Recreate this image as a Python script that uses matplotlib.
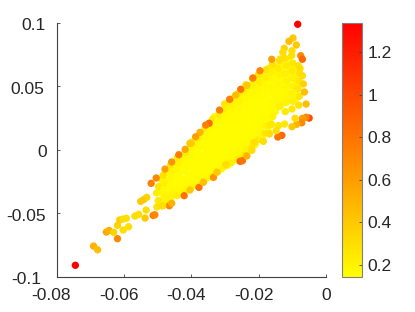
import numpy as np
import matplotlib
matplotlib.use("Agg")
import matplotlib.pyplot as plt
from matplotlib.transforms import ScaledTranslation

plt.rcParams["font.family"] = ["Liberation Sans", "DejaVu Sans"]

# points on the rim of the cloud, these are the ones that can be read one by one
rim_x = [-0.0084, -0.0744, -0.0690, -0.0678, -0.0619, -0.0652, -0.0644, -0.0630, -0.0619, -0.0602,
         -0.0586, -0.0612, -0.0603, -0.0593, -0.0567, -0.0556, -0.0537, -0.0513, -0.0508, -0.0534,
         -0.0550, -0.0540, -0.0532, -0.0519, -0.0504, -0.0478, -0.0458, -0.0437, -0.0418, -0.0404,
         -0.0421, -0.0465, -0.0458, -0.0485, -0.0404, -0.0377, -0.0364, -0.0334, -0.0324, -0.0297,
         -0.0255, -0.0248, -0.0235, -0.0220, -0.0098, -0.0110, -0.0088, -0.0124, -0.0128, -0.0101,
         -0.0075, -0.0070, -0.0161, -0.0136, -0.0196, -0.0217, -0.0253, -0.0235, -0.0268, -0.0286,
         -0.0316, -0.0347, -0.0357, -0.0374, -0.0387, -0.0400, -0.0050, -0.0059, -0.0070, -0.0072,
         -0.0087, -0.0101, -0.0092, -0.0059, -0.0064, -0.0067, -0.0070, -0.0077, -0.0131, -0.0143,
         -0.0186, -0.0168, -0.0148, -0.0123, -0.0166, -0.0213]
rim_y = [0.0986, -0.0908, -0.0757, -0.0786, -0.0699, -0.0647, -0.0634, -0.0649, -0.0594, -0.0631,
         -0.0605, -0.0552, -0.0545, -0.0539, -0.0521, -0.0508, -0.0537, -0.0516, -0.0511, -0.0474,
         -0.0406, -0.0390, -0.0374, -0.0264, -0.0222, -0.0152, -0.0096, -0.0039, 0.0003, 0.0050,
         -0.0361, -0.0440, -0.0421, -0.0442, -0.0317, -0.0296, -0.0256, -0.0217, -0.0177, -0.0115,
         -0.0091, -0.0086, -0.0049, -0.0004, 0.0878, 0.0852, 0.0823, 0.0797, 0.0766, 0.0778,
         0.0739, 0.0711, 0.0711, 0.0713, 0.0621, 0.0564, 0.0475, 0.0506, 0.0430, 0.0396,
         0.0312, 0.0208, 0.0194, 0.0137, 0.0102, 0.0050, 0.0249, 0.0255, 0.0247, 0.0212,
         0.0200, 0.0181, 0.0247, 0.0359, 0.0454, 0.0517, 0.0582, 0.0640, 0.0113, 0.0100,
         0.0066, 0.0124, 0.0150, 0.0202, 0.0194, 0.0055]
rim_c = [1.34, 1.34, 0.50, 0.45, 0.70, 0.55, 0.50, 0.35, 0.35, 0.30,
         0.30, 0.40, 0.30, 0.30, 0.30, 0.30, 0.40, 0.75, 0.70, 0.30,
         0.40, 0.40, 0.35, 0.75, 0.70, 0.60, 0.65, 0.75, 0.55, 0.40,
         0.80, 0.70, 0.50, 0.30, 0.40, 0.80, 0.45, 0.65, 0.40, 0.30,
         0.85, 0.80, 0.50, 0.30, 0.40, 0.45, 0.40, 0.35, 0.30, 0.30,
         0.70, 0.85, 0.60, 0.30, 0.70, 0.75, 0.80, 0.40, 0.45, 0.75,
         0.75, 0.85, 0.75, 0.50, 0.60, 0.40, 1.00, 0.70, 0.60, 0.70,
         0.50, 0.40, 0.30, 0.45, 0.45, 0.35, 0.30, 0.30, 0.85, 0.80,
         0.30, 0.30, 0.30, 0.25, 0.25, 0.30]

# the pale yellow mass in the middle, estimated
core_x = [-0.0502, -0.0498, -0.0503, -0.0497,
          -0.0482, -0.0478, -0.0481, -0.0479, -0.0483,
          -0.0461, -0.0458, -0.0462, -0.0459, -0.0457, -0.0461,
          -0.0442, -0.0438, -0.0441, -0.0439, -0.0443, -0.0437, -0.0441,
          -0.0421, -0.0418, -0.0422, -0.0419, -0.0417, -0.0421, -0.0418,
          -0.0401, -0.0399, -0.0402, -0.0398, -0.0401, -0.0397, -0.0402, -0.0399,
          -0.0381, -0.0378, -0.0382, -0.0379, -0.0377, -0.0381, -0.0379, -0.0382,
          -0.0361, -0.0358, -0.0362, -0.0359, -0.0357, -0.0361, -0.0358, -0.0362, -0.0359,
          -0.0341, -0.0338, -0.0342, -0.0339, -0.0337, -0.0341, -0.0338, -0.0342, -0.0339, -0.0337,
          -0.0321, -0.0318, -0.0322, -0.0319, -0.0317, -0.0321, -0.0318, -0.0322, -0.0319, -0.0317,
          -0.0301, -0.0298, -0.0302, -0.0299, -0.0297, -0.0301, -0.0298, -0.0302, -0.0299, -0.0297, -0.0301,
          -0.0281, -0.0278, -0.0282, -0.0279, -0.0277, -0.0281, -0.0278, -0.0282, -0.0279, -0.0277, -0.0281,
          -0.0261, -0.0258, -0.0262, -0.0259, -0.0257, -0.0261, -0.0258, -0.0262, -0.0259, -0.0257, -0.0261,
          -0.0241, -0.0238, -0.0242, -0.0239, -0.0237, -0.0241, -0.0238, -0.0242, -0.0239, -0.0237, -0.0241, -0.0238,
          -0.0221, -0.0218, -0.0222, -0.0219, -0.0217, -0.0221, -0.0218, -0.0222, -0.0219, -0.0217, -0.0221, -0.0218,
          -0.0201, -0.0198, -0.0202, -0.0199, -0.0197, -0.0201, -0.0198, -0.0202, -0.0199, -0.0197, -0.0201,
          -0.0181, -0.0178, -0.0182, -0.0179, -0.0177, -0.0181, -0.0178, -0.0182, -0.0179, -0.0177,
          -0.0161, -0.0158, -0.0162, -0.0159, -0.0157, -0.0161, -0.0158, -0.0162, -0.0159,
          -0.0141, -0.0138, -0.0142, -0.0139, -0.0137, -0.0141, -0.0138, -0.0142, -0.0139,
          -0.0121, -0.0118, -0.0122, -0.0119, -0.0117, -0.0121, -0.0118, -0.0122,
          -0.0101, -0.0098, -0.0102, -0.0099, -0.0097, -0.0101, -0.0098, -0.0102,
          -0.0081, -0.0079, -0.0083, -0.0080, -0.0078, -0.0082]
core_y = [-0.0450, -0.0400, -0.0340, -0.0290,
          -0.0420, -0.0370, -0.0310, -0.0260, -0.0200,
          -0.0380, -0.0330, -0.0270, -0.0210, -0.0160, -0.0120,
          -0.0360, -0.0310, -0.0260, -0.0200, -0.0150, -0.0100, -0.0060,
          -0.0330, -0.0280, -0.0230, -0.0170, -0.0120, -0.0070, -0.0020,
          -0.0300, -0.0250, -0.0200, -0.0150, -0.0090, -0.0040, 0.0010, 0.0060,
          -0.0270, -0.0220, -0.0170, -0.0120, -0.0060, -0.0010, 0.0040, 0.0090,
          -0.0240, -0.0190, -0.0140, -0.0090, -0.0030, 0.0020, 0.0070, 0.0120, 0.0170,
          -0.0210, -0.0160, -0.0100, -0.0050, 0.0000, 0.0050, 0.0100, 0.0150, 0.0200, 0.0240,
          -0.0170, -0.0120, -0.0070, -0.0020, 0.0030, 0.0080, 0.0130, 0.0180, 0.0230, 0.0280,
          -0.0130, -0.0080, -0.0030, 0.0020, 0.0070, 0.0120, 0.0170, 0.0220, 0.0270, 0.0320, 0.0360,
          -0.0100, -0.0050, 0.0000, 0.0050, 0.0100, 0.0150, 0.0200, 0.0250, 0.0300, 0.0350, 0.0400,
          -0.0070, -0.0020, 0.0030, 0.0080, 0.0130, 0.0180, 0.0230, 0.0280, 0.0330, 0.0380, 0.0440,
          -0.0040, 0.0010, 0.0060, 0.0110, 0.0160, 0.0210, 0.0260, 0.0310, 0.0360, 0.0410, 0.0460, 0.0510,
          0.0010, 0.0060, 0.0110, 0.0160, 0.0210, 0.0260, 0.0310, 0.0360, 0.0410, 0.0460, 0.0510, 0.0560,
          0.0080, 0.0130, 0.0180, 0.0230, 0.0280, 0.0330, 0.0380, 0.0430, 0.0480, 0.0530, 0.0590,
          0.0130, 0.0190, 0.0250, 0.0300, 0.0360, 0.0410, 0.0470, 0.0520, 0.0570, 0.0630,
          0.0200, 0.0260, 0.0320, 0.0380, 0.0440, 0.0490, 0.0550, 0.0610, 0.0670,
          0.0190, 0.0340, 0.0390, 0.0430, 0.0480, 0.0530, 0.0590, 0.0640, 0.0700,
          0.0300, 0.0370, 0.0430, 0.0480, 0.0540, 0.0600, 0.0660, 0.0720,
          0.0320, 0.0380, 0.0440, 0.0500, 0.0560, 0.0620, 0.0680, 0.0740,
          0.0350, 0.0420, 0.0480, 0.0540, 0.0600, 0.0660]
core_c = [0.28, 0.25, 0.22, 0.26,
          0.22, 0.20, 0.18, 0.22, 0.28,
          0.20, 0.18, 0.17, 0.18, 0.20, 0.26,
          0.22, 0.17, 0.16, 0.17, 0.18, 0.20, 0.24,
          0.20, 0.17, 0.16, 0.16, 0.17, 0.18, 0.24,
          0.22, 0.17, 0.16, 0.16, 0.16, 0.17, 0.18, 0.24,
          0.20, 0.17, 0.16, 0.16, 0.16, 0.16, 0.17, 0.22,
          0.20, 0.17, 0.16, 0.16, 0.16, 0.16, 0.16, 0.18, 0.24,
          0.20, 0.17, 0.16, 0.16, 0.16, 0.16, 0.16, 0.17, 0.18, 0.24,
          0.22, 0.17, 0.16, 0.16, 0.16, 0.16, 0.16, 0.16, 0.18, 0.24,
          0.22, 0.17, 0.16, 0.16, 0.16, 0.16, 0.16, 0.16, 0.17, 0.20, 0.26,
          0.22, 0.17, 0.16, 0.16, 0.16, 0.16, 0.16, 0.16, 0.17, 0.20, 0.26,
          0.22, 0.18, 0.16, 0.16, 0.16, 0.16, 0.16, 0.16, 0.17, 0.20, 0.26,
          0.26, 0.20, 0.17, 0.16, 0.16, 0.16, 0.16, 0.16, 0.17, 0.18, 0.22, 0.28,
          0.26, 0.20, 0.17, 0.16, 0.16, 0.16, 0.16, 0.16, 0.17, 0.18, 0.22, 0.28,
          0.24, 0.18, 0.17, 0.16, 0.16, 0.16, 0.16, 0.17, 0.18, 0.22, 0.28,
          0.26, 0.20, 0.17, 0.16, 0.16, 0.16, 0.17, 0.18, 0.22, 0.28,
          0.24, 0.20, 0.17, 0.17, 0.17, 0.18, 0.18, 0.22, 0.28,
          0.26, 0.22, 0.18, 0.17, 0.17, 0.18, 0.20, 0.24, 0.28,
          0.24, 0.20, 0.18, 0.18, 0.20, 0.22, 0.24, 0.28,
          0.26, 0.22, 0.20, 0.20, 0.22, 0.24, 0.26, 0.28,
          0.28, 0.26, 0.26, 0.26, 0.28, 0.28]

# more of the same mass, sits between the points above so no white shows through
fill_x = [-0.0490, -0.0488, -0.0491, -0.0489,
          -0.0470, -0.0472, -0.0469, -0.0471, -0.0470,
          -0.0450, -0.0452, -0.0449, -0.0451, -0.0450,
          -0.0430, -0.0432, -0.0429, -0.0431, -0.0430, -0.0429,
          -0.0410, -0.0412, -0.0409, -0.0411, -0.0410, -0.0409, -0.0411,
          -0.0390, -0.0392, -0.0389, -0.0391, -0.0390, -0.0389, -0.0391,
          -0.0370, -0.0372, -0.0369, -0.0371, -0.0370, -0.0369, -0.0371, -0.0370,
          -0.0350, -0.0352, -0.0349, -0.0351, -0.0350, -0.0349, -0.0351, -0.0350,
          -0.0330, -0.0332, -0.0329, -0.0331, -0.0330, -0.0329, -0.0331, -0.0330, -0.0329, -0.0331,
          -0.0310, -0.0312, -0.0309, -0.0311, -0.0310, -0.0309, -0.0311, -0.0310, -0.0309, -0.0311,
          -0.0290, -0.0292, -0.0289, -0.0291, -0.0290, -0.0289, -0.0291, -0.0290, -0.0289, -0.0291, -0.0290,
          -0.0270, -0.0272, -0.0269, -0.0271, -0.0270, -0.0269, -0.0271, -0.0270, -0.0269, -0.0271, -0.0270,
          -0.0250, -0.0252, -0.0249, -0.0251, -0.0250, -0.0249, -0.0251, -0.0250, -0.0249, -0.0251, -0.0250,
          -0.0230, -0.0232, -0.0229, -0.0231, -0.0230, -0.0229, -0.0231, -0.0230, -0.0229, -0.0231, -0.0230,
          -0.0210, -0.0212, -0.0209, -0.0211, -0.0210, -0.0209, -0.0211, -0.0210, -0.0209, -0.0211, -0.0210,
          -0.0190, -0.0192, -0.0189, -0.0191, -0.0190, -0.0189, -0.0191, -0.0190, -0.0189, -0.0191, -0.0190,
          -0.0170, -0.0172, -0.0169, -0.0171, -0.0170, -0.0169, -0.0171, -0.0170, -0.0169, -0.0171, -0.0170,
          -0.0150, -0.0152, -0.0149, -0.0151, -0.0150, -0.0149, -0.0151, -0.0150,
          -0.0130, -0.0132, -0.0129, -0.0131, -0.0130, -0.0129, -0.0131, -0.0130,
          -0.0110, -0.0112, -0.0109, -0.0111, -0.0110, -0.0109, -0.0111,
          -0.0090, -0.0092, -0.0089, -0.0091, -0.0090, -0.0089]
fill_y = [-0.0400, -0.0340, -0.0280, -0.0230,
          -0.0400, -0.0350, -0.0290, -0.0240, -0.0180,
          -0.0350, -0.0300, -0.0240, -0.0180, -0.0130,
          -0.0340, -0.0280, -0.0230, -0.0170, -0.0120, -0.0080,
          -0.0310, -0.0260, -0.0200, -0.0140, -0.0090, -0.0040, 0.0000,
          -0.0280, -0.0220, -0.0170, -0.0120, -0.0070, -0.0010, 0.0040,
          -0.0250, -0.0190, -0.0140, -0.0090, -0.0040, 0.0020, 0.0070, 0.0110,
          -0.0220, -0.0170, -0.0120, -0.0060, -0.0010, 0.0040, 0.0100, 0.0150,
          -0.0180, -0.0130, -0.0080, -0.0020, 0.0030, 0.0080, 0.0130, 0.0180, 0.0220, 0.0260,
          -0.0150, -0.0100, -0.0050, 0.0000, 0.0050, 0.0100, 0.0150, 0.0200, 0.0250, 0.0300,
          -0.0120, -0.0070, -0.0020, 0.0030, 0.0080, 0.0130, 0.0180, 0.0230, 0.0280, 0.0330, 0.0370,
          -0.0080, -0.0030, 0.0020, 0.0070, 0.0120, 0.0170, 0.0220, 0.0270, 0.0320, 0.0370, 0.0420,
          -0.0050, 0.0000, 0.0050, 0.0100, 0.0150, 0.0200, 0.0250, 0.0300, 0.0350, 0.0400, 0.0450,
          -0.0010, 0.0040, 0.0090, 0.0140, 0.0190, 0.0240, 0.0290, 0.0340, 0.0390, 0.0440, 0.0490,
          0.0040, 0.0090, 0.0140, 0.0190, 0.0240, 0.0290, 0.0340, 0.0390, 0.0440, 0.0490, 0.0540,
          0.0090, 0.0140, 0.0190, 0.0240, 0.0290, 0.0340, 0.0390, 0.0440, 0.0490, 0.0540, 0.0590,
          0.0140, 0.0190, 0.0240, 0.0290, 0.0340, 0.0390, 0.0440, 0.0490, 0.0540, 0.0590, 0.0640,
          0.0300, 0.0350, 0.0400, 0.0450, 0.0500, 0.0550, 0.0600, 0.0650,
          0.0360, 0.0410, 0.0460, 0.0510, 0.0560, 0.0610, 0.0660, 0.0710,
          0.0400, 0.0450, 0.0500, 0.0550, 0.0600, 0.0650, 0.0700,
          0.0400, 0.0450, 0.0500, 0.0550, 0.0600, 0.0650]
fill_c = [0.18, 0.17, 0.17, 0.18,
          0.18, 0.17, 0.16, 0.16, 0.18,
          0.17, 0.16, 0.16, 0.16, 0.17,
          0.17, 0.16, 0.16, 0.16, 0.16, 0.17,
          0.17, 0.16, 0.16, 0.16, 0.16, 0.16, 0.17,
          0.16, 0.16, 0.15, 0.15, 0.16, 0.16, 0.17,
          0.16, 0.16, 0.15, 0.15, 0.15, 0.16, 0.16, 0.17,
          0.16, 0.15, 0.15, 0.15, 0.15, 0.15, 0.16, 0.17,
          0.16, 0.15, 0.15, 0.15, 0.15, 0.15, 0.15, 0.16, 0.16, 0.17,
          0.16, 0.15, 0.15, 0.15, 0.15, 0.15, 0.15, 0.15, 0.16, 0.17,
          0.16, 0.15, 0.15, 0.15, 0.15, 0.15, 0.15, 0.15, 0.16, 0.16, 0.17,
          0.16, 0.15, 0.15, 0.15, 0.15, 0.15, 0.15, 0.15, 0.16, 0.16, 0.17,
          0.16, 0.15, 0.15, 0.15, 0.15, 0.15, 0.15, 0.15, 0.16, 0.16, 0.17,
          0.16, 0.16, 0.15, 0.15, 0.15, 0.15, 0.15, 0.15, 0.16, 0.16, 0.18,
          0.17, 0.16, 0.15, 0.15, 0.15, 0.15, 0.15, 0.15, 0.16, 0.16, 0.18,
          0.17, 0.16, 0.16, 0.15, 0.15, 0.15, 0.15, 0.16, 0.16, 0.17, 0.18,
          0.17, 0.16, 0.16, 0.16, 0.15, 0.15, 0.15, 0.16, 0.16, 0.17, 0.18,
          0.17, 0.16, 0.16, 0.16, 0.16, 0.16, 0.17, 0.18,
          0.17, 0.16, 0.16, 0.16, 0.16, 0.17, 0.17, 0.18,
          0.17, 0.16, 0.16, 0.16, 0.17, 0.17, 0.18,
          0.18, 0.17, 0.17, 0.17, 0.18, 0.18]

x_ticks = [-0.08, -0.06, -0.04, -0.02, 0]
x_labels = ["-0.08", "-0.06", "-0.04", "-0.02", "0"]
y_ticks = [-0.1, -0.05, 0, 0.05, 0.1]
y_labels = ["-0.1", "-0.05", "0", "0.05", "0.1"]
c_ticks = [0.2, 0.4, 0.6, 0.8, 1, 1.2]
c_labels = ["0.2", "0.4", "0.6", "0.8", "1", "1.2"]

dark = "#404040"

fig = plt.figure(figsize=(4.15, 3.12), dpi=100)
ax = fig.add_axes([56.5 / 415, 1 - 277 / 312, 269.5 / 415, 254.5 / 312])
cax = fig.add_axes([342 / 415, 1 - 277 / 312, 20 / 415, 254.5 / 312])

sc = ax.scatter(fill_x + core_x + rim_x, fill_y + core_y + rim_y, c=fill_c + core_c + rim_c, s=28,
                cmap="autumn_r", vmin=0.144, vmax=1.339, linewidths=0, clip_on=False)

ax.set_xlim(-0.08, 0)
ax.set_ylim(-0.1, 0.1)
ax.set_xticks(x_ticks)
ax.set_xticklabels(x_labels)
ax.set_yticks(y_ticks)
ax.set_yticklabels(y_labels)
ax.spines["top"].set_visible(False)
ax.spines["right"].set_visible(False)
for s in ["left", "bottom"]:
    ax.spines[s].set_color(dark)
    ax.spines[s].set_linewidth(0.8)
ax.tick_params(axis="x", direction="in", length=2.5, width=0.6, color=dark, labelsize=12.5,
               labelcolor="#262626", pad=8)
ax.tick_params(axis="y", direction="in", length=2.5, width=0.6, color=dark, labelsize=12.5,
               labelcolor="#262626", pad=7.5)

# labels in the reference do not sit exactly on their ticks, offsets in pixels
x_nudge = [-5, -5, -5, -5, 0]
y_nudge = [-5, 0, 1, -2, 0]
for lab, dx in zip(ax.get_xticklabels(), x_nudge):
    lab.set_transform(lab.get_transform() + ScaledTranslation(dx / 100, 0, fig.dpi_scale_trans))
for lab, dx in zip(ax.get_yticklabels(), y_nudge):
    lab.set_transform(lab.get_transform() + ScaledTranslation(dx / 100, -1.5 / 100, fig.dpi_scale_trans))

cb = fig.colorbar(sc, cax=cax)
cb.set_ticks(c_ticks)
cb.set_ticklabels(c_labels)
cb.outline.set_edgecolor("#808080")
cb.outline.set_linewidth(0.8)
cax.tick_params(direction="in", length=2.5, width=0.6, color=dark, labelsize=12.5,
                labelcolor="#262626", pad=4)

fig.savefig("out.png", dpi=100)
